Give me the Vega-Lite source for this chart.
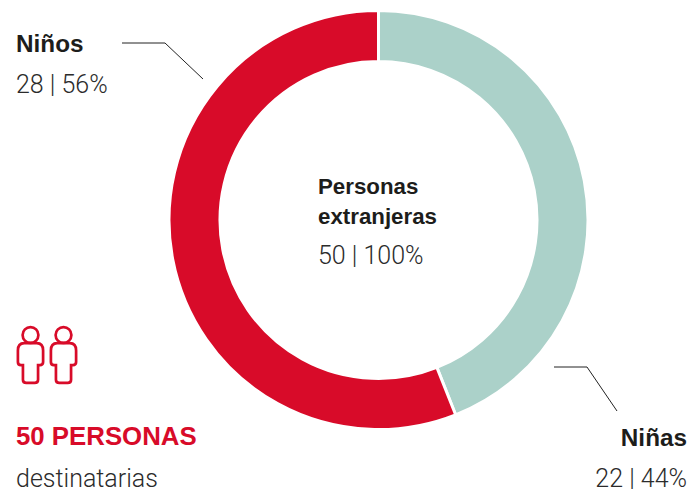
{
"$schema":"https://vega.github.io/schema/vega-lite/v6.json",
"width":693,"height":489,"padding":0,"autosize":{"type":"none"},
"background":"#ffffff",
"config":{"view":{"stroke":null}},
"datasets":{
"slices":[{"grupo":"Niñas","personas":22,"orden":1,"cx":378.5,"cy":220},{"grupo":"Niños","personas":28,"orden":2,"cx":378.5,"cy":220}],
"leaders":[
{"grupo":"Niños","k":1,"x":122,"y":43},{"grupo":"Niños","k":2,"x":165,"y":43},{"grupo":"Niños","k":3,"x":203,"y":79},
{"grupo":"Niñas","k":1,"x":554,"y":367},{"grupo":"Niñas","k":2,"x":587,"y":367},{"grupo":"Niñas","k":3,"x":617,"y":411}],
"boldLeft":[{"t":"Niños","x":16,"y":52}],
"boldCenter":[{"t":"Personas","x":318,"y":194},{"t":"extranjeras","x":318,"y":224}],
"boldRight":[{"t":"Niñas","x":687,"y":446}],
"lightLeft":[{"t":"28 | 56%","x":16,"y":93},{"t":"50 | 100%","x":318,"y":264},{"t":"destinatarias","x":16,"y":487}],
"lightRight":[{"t":"22 | 44%","x":687,"y":487}],
"red":[{"t":"50 PERSONAS","x":16,"y":445}],
"heads":[{"x":30.5,"y":335},{"x":63.5,"y":335}],
"bodies":[{"x":30.5,"y":363},{"x":63.5,"y":363}]
},
"encoding":{
 "x":{"field":"x","type":"quantitative","axis":null,"scale":{"domain":[0,693],"nice":false,"zero":false}},
 "y":{"field":"y","type":"quantitative","axis":null,"scale":{"domain":[489,0],"nice":false,"zero":false}}},
"layer":[
{"data":{"name":"slices"},
 "mark":{"type":"arc","outerRadius":209.5,"innerRadius":158.5,"stroke":"#ffffff","strokeWidth":3},
 "encoding":{
  "theta":{"field":"personas","type":"quantitative","stack":true},
  "order":{"field":"orden"},
  "color":{"field":"grupo","type":"nominal","legend":null,"scale":{"domain":["Niñas","Niños"],"range":["#abd1c9","#d80b29"]}},
  "x":{"field":"cx","type":"quantitative","axis":null,"scale":{"domain":[0,693],"nice":false,"zero":false}},
  "y":{"field":"cy","type":"quantitative","axis":null,"scale":{"domain":[489,0],"nice":false,"zero":false}}}},
{"data":{"name":"leaders"},
 "mark":{"type":"line","stroke":"#222222","strokeWidth":1},
 "encoding":{"detail":{"field":"grupo"},"order":{"field":"k"}}},
{"data":{"name":"heads"},
 "mark":{"type":"point","shape":"circle","filled":false,"size":250,"stroke":"#d80b29","strokeWidth":2.7,"opacity":1},
 "encoding":{}},
{"data":{"name":"bodies"},
 "mark":{"type":"point","shape":"M-0.3 -0.95L0.3 -0.95Q0.6 -0.95 0.6 -0.6L0.6 -0.05Q0.6 0.1 0.45 0.1L0.36 0.1L0.36 0.8Q0.36 0.95 0.2 0.95L-0.2 0.95Q-0.36 0.95 -0.36 0.8L-0.36 0.1L-0.45 0.1Q-0.6 0.1 -0.6 -0.05L-0.6 -0.6Q-0.6 -0.95 -0.3 -0.95Z","filled":false,"size":1764,"stroke":"#d80b29","strokeWidth":2.7,"opacity":1},
 "encoding":{}},
{"data":{"name":"boldLeft"},
 "mark":{"type":"text","align":"left","baseline":"alphabetic","font":"Liberation Sans","fontWeight":"bold","fontSize":24.3,"fill":"#1d1d1b"},
 "encoding":{"text":{"field":"t"}}},
{"data":{"name":"boldCenter"},
 "mark":{"type":"text","align":"left","baseline":"alphabetic","font":"Liberation Sans","fontWeight":"bold","fontSize":22.3,"fill":"#1d1d1b"},
 "encoding":{"text":{"field":"t"}}},
{"data":{"name":"boldRight"},
 "mark":{"type":"text","align":"right","baseline":"alphabetic","font":"Liberation Sans","fontWeight":"bold","fontSize":24.3,"fill":"#1d1d1b"},
 "encoding":{"text":{"field":"t"}}},
{"data":{"name":"lightLeft"},
 "mark":{"type":"text","align":"left","baseline":"alphabetic","font":"Roboto","fontWeight":300,"fontSize":25,"fill":"#2b2b2b"},
 "encoding":{"text":{"field":"t"}}},
{"data":{"name":"lightRight"},
 "mark":{"type":"text","align":"right","baseline":"alphabetic","font":"Roboto","fontWeight":300,"fontSize":25,"fill":"#2b2b2b"},
 "encoding":{"text":{"field":"t"}}},
{"data":{"name":"red"},
 "mark":{"type":"text","align":"left","baseline":"alphabetic","font":"Liberation Sans","fontWeight":"bold","fontSize":25.8,"fill":"#d80b29"},
 "encoding":{"text":{"field":"t"}}}
]
}
